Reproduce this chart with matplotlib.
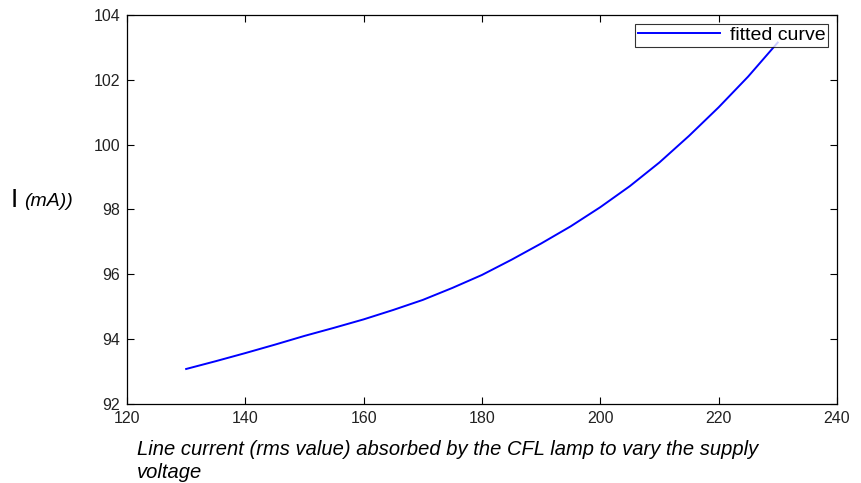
import numpy as np
from matplotlib import pyplot as plt

plt.rcParams['font.family'] = ['Liberation Sans', 'DejaVu Sans']

# supply voltage (V) and line current (mA)
voltage = [130, 135, 140, 145, 150, 155, 160, 165, 170, 175, 180,
           185, 190, 195, 200, 205, 210, 215, 220, 225, 230]
current = [93.08, 93.32, 93.57, 93.83, 94.10, 94.35, 94.61, 94.90, 95.21, 95.58, 95.98,
           96.45, 96.95, 97.48, 98.07, 98.72, 99.45, 100.27, 101.15, 102.10, 103.15]
xticks = [120, 140, 160, 180, 200, 220, 240]
yticks = [92, 94, 96, 98, 100, 102, 104]

fig = plt.figure(figsize=(8.61, 4.83), dpi=100)
ax = fig.add_axes([0.1475, 0.1636, 0.8245, 0.8054])
ax.plot(voltage, current, color='#0000ff', lw=1.4, label='fitted curve')
ax.set_xlim(120, 240)
ax.set_ylim(92, 104)
ax.set_xticks(xticks)
ax.set_yticks(yticks)
ax.tick_params(direction='in', length=5, width=0.8, top=True, right=True,
               labelsize=11.5, labelcolor='#222222', pad=5)
for s in ax.spines.values():
    s.set_linewidth(0.9)

leg = ax.legend(loc='upper right', fontsize=14, frameon=True, fancybox=False,
                borderpad=0.15, handlelength=4.2, borderaxespad=0.45, handletextpad=0.5)
leg.get_frame().set_edgecolor('black')
leg.get_frame().set_linewidth(0.8)

fig.text(0.012, 0.586, 'I', fontsize=19, va='center', ha='left')
fig.text(0.028, 0.582, '(mA))', fontsize=14, style='italic', va='center', ha='left')

fig.text(0.159, 0.088, 'Line current (rms value) absorbed by the CFL lamp to vary the supply\nvoltage',
         style='italic', fontsize=14.5, va='top', ha='left', linespacing=1.25)

plt.savefig('out.png', dpi=100)
